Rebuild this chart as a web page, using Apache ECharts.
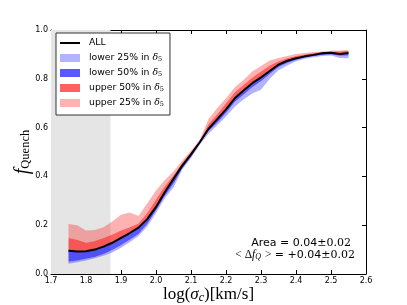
<!DOCTYPE html>
<html><head><meta charset="utf-8">
<script src="https://cdn.jsdelivr.net/npm/echarts@6/dist/echarts.min.js"></script>
<style>html,body{margin:0;padding:0;background:#fff}#c{width:407px;height:305px}</style>
</head><body><div id="c"></div>
<script>
// log(sigma_c) grid
const sigma = [1.75,1.775,1.8,1.825,1.85,1.875,1.9,1.925,1.95,1.975,2.0,2.025,2.05,2.075,2.1,2.125,2.15,2.175,2.2,2.225,2.25,2.275,2.3,2.325,2.35,2.375,2.4,2.425,2.45,2.475,2.5,2.525,2.55];
const fAll = [0.095,0.092,0.093,0.100,0.112,0.128,0.148,0.168,0.190,0.225,0.275,0.335,0.390,0.444,0.490,0.540,0.595,0.635,0.675,0.720,0.752,0.782,0.806,0.832,0.858,0.874,0.884,0.892,0.898,0.905,0.907,0.902,0.906];
const fUpper50 = [0.148,0.140,0.128,0.135,0.148,0.162,0.178,0.192,0.207,0.250,0.305,0.360,0.405,0.455,0.500,0.545,0.615,0.655,0.700,0.745,0.775,0.805,0.830,0.855,0.872,0.884,0.893,0.900,0.905,0.910,0.912,0.912,0.915];
const fUpper25 = [0.205,0.200,0.178,0.180,0.192,0.215,0.243,0.252,0.238,0.290,0.342,0.385,0.420,0.465,0.505,0.550,0.635,0.680,0.720,0.765,0.795,0.830,0.852,0.875,0.885,0.893,0.902,0.906,0.910,0.912,0.915,0.916,0.918];
const fLower50 = [0.050,0.055,0.062,0.070,0.082,0.098,0.118,0.140,0.164,0.205,0.260,0.320,0.370,0.432,0.480,0.535,0.585,0.620,0.660,0.705,0.735,0.765,0.790,0.820,0.848,0.865,0.877,0.886,0.892,0.898,0.900,0.894,0.896];
const fLower25 = [0.042,0.048,0.055,0.065,0.075,0.088,0.108,0.130,0.156,0.195,0.250,0.310,0.355,0.428,0.475,0.530,0.575,0.610,0.645,0.685,0.715,0.740,0.755,0.800,0.835,0.855,0.872,0.882,0.888,0.893,0.895,0.885,0.884];
const shadeSpan = [1.7, 1.87];
const xRange = [1.7, 2.6], xStep = 0.1;
const yRange = [0, 1], yStep = 0.2;
const legendNames = ['ALL','lower 25%','lower 50%','upper 50%','upper 25%'];
const colors = {
  'lower 25%': 'rgba(0,0,255,0.3)',
  'lower 50%': 'rgba(0,0,255,0.65)',
  'upper 50%': 'rgba(255,0,0,0.62)',
  'upper 25%': 'rgba(255,0,0,0.3)'
};

function band(name, lo, hi) {
  return {
    name: name, type: 'custom', coordinateSystem: 'cartesian2d', silent: true, z: 2,
    itemStyle: {color: colors[name]},
    data: sigma.map((x, i) => [x, lo[i], hi[i]]),
    encode: {x: 0, y: [1, 2]},
    renderItem: function (params, api) {
      if (params.dataIndexInside !== 0) return null;
      const top = [], bot = [];
      for (let i = 0; i < sigma.length; i++) {
        top.push(api.coord([sigma[i], hi[i]]));
        bot.push(api.coord([sigma[i], lo[i]]));
      }
      return {type: 'polygon', shape: {points: top.concat(bot.reverse())}, style: {fill: colors[name]}};
    }
  };
}

const axisCommon = {
  axisLine: {show: true, onZero: false, lineStyle: {color: '#000', width: 1}},
  axisTick: {show: true, inside: true, length: 4, lineStyle: {color: '#000'}},
  splitLine: {show: false}
};
const tickFont = {fontFamily: 'DejaVu Sans', fontSize: 8, color: '#000'};

const chart = echarts.init(document.getElementById('c'), null, {renderer: 'canvas'});
chart.setOption({
  animation: false,
  backgroundColor: '#fff',
  grid: {left: 51, right: 41, top: 30, bottom: 31, containLabel: false, outerBoundsMode: 'none'},
  xAxis: [
    Object.assign({type: 'value', min: xRange[0], max: xRange[1], interval: xStep, position: 'bottom',
      axisLabel: Object.assign({formatter: v => v.toFixed(1), margin: 3}, tickFont),
      name: '{r|log(}{i|σ}{s|c}{r|)[km/s]}', nameLocation: 'middle', nameGap: 12, nameMoveOverlap: false,
      nameTextStyle: {rich: {
        r: {fontFamily: 'Liberation Serif', fontSize: 17, lineHeight: 18, color: '#000'},
        i: {fontFamily: 'Liberation Serif', fontStyle: 'italic', fontSize: 17, lineHeight: 18, color: '#000'},
        s: {fontFamily: 'Liberation Serif', fontStyle: 'italic', fontSize: 12, lineHeight: 18, color: '#000', padding: [5, 0, 0, 0]}
      }}
    }, axisCommon),
    Object.assign({type: 'value', min: xRange[0], max: xRange[1], interval: xStep, position: 'top',
      axisLabel: {show: false}}, axisCommon)
  ],
  yAxis: [
    Object.assign({type: 'value', min: yRange[0], max: yRange[1], interval: yStep, position: 'left',
      axisLabel: Object.assign({formatter: v => v.toFixed(1), margin: 3}, tickFont),
      name: '{f|f}{s|Quench}', nameLocation: 'middle', nameGap: 18, nameRotate: 90, nameMoveOverlap: false,
      nameTextStyle: {rich: {
        f: {fontFamily: 'Liberation Serif', fontStyle: 'italic', fontSize: 20, lineHeight: 20, color: '#000'},
        s: {fontFamily: 'Liberation Serif', fontSize: 12.5, lineHeight: 20, color: '#000', padding: [6, 0, 0, 0]}
      }}
    }, axisCommon),
    Object.assign({type: 'value', min: yRange[0], max: yRange[1], interval: yStep, position: 'right',
      axisLabel: {show: false}}, axisCommon)
  ],
  legend: {
    orient: 'vertical', left: 56, top: 33,
    itemWidth: 20, itemHeight: 8, itemGap: 5,
    padding: [5, 6, 7, 4],
    borderColor: '#333', borderWidth: 1, borderRadius: 0, backgroundColor: '#fff',
    selectedMode: false,
    data: legendNames.map(n => n === 'ALL'
      ? {name: n, icon: 'path://M0,0 h20 v2 h-20 z', itemStyle: {color: '#000'}}
      : {name: n, icon: 'rect', itemStyle: {color: colors[n]}}),
    formatter: n => n === 'ALL' ? '{g| }{t|ALL}' : '{g| }{t|' + n + ' in }{d|δ}{s|5}',
    textStyle: {
      fontFamily: 'DejaVu Sans', fontSize: 9.3, color: '#000', lineHeight: 10,
      rich: {
        g: {width: 4, fontSize: 9.3, lineHeight: 10},
        t: {fontFamily: 'DejaVu Sans', fontSize: 9.3, color: '#000', lineHeight: 10},
        d: {fontFamily: 'DejaVu Serif', fontStyle: 'italic', fontSize: 9.3, color: '#000', lineHeight: 10},
        s: {fontFamily: 'DejaVu Serif', fontSize: 6.5, color: '#000', lineHeight: 10, padding: [3, 0, 0, 0]}
      }
    }
  },
  graphic: [
    {type: 'text', right: 407 - 351, top: 238, z: 10, style: {
      text: '{a|Area = 0.04}{b|±0.02}', align: 'right',
      rich: {
        a: {fontFamily: 'DejaVu Sans', fontSize: 11, lineHeight: 14, fill: '#000'},
        b: {fontFamily: 'DejaVu Serif', fontSize: 11, lineHeight: 14, fill: '#000'}
      }}},
    {type: 'text', right: 407 - 355, top: 249, z: 10, style: {
      text: '{m|< Δ}{fi|f}{q|Q}{m| >}{a| = +0.04}{b|±0.02}', align: 'right',
      rich: {
        m: {fontFamily: 'Liberation Serif', fontSize: 11.5, lineHeight: 14, fill: '#000'},
        fi: {fontFamily: 'Liberation Serif', fontStyle: 'italic', fontSize: 11.5, lineHeight: 14, fill: '#000'},
        q: {fontFamily: 'Liberation Serif', fontStyle: 'italic', fontSize: 8, lineHeight: 14, fill: '#000', padding: [4, 1, 0, 0]},
        a: {fontFamily: 'DejaVu Sans', fontSize: 11, lineHeight: 14, fill: '#000'},
        b: {fontFamily: 'DejaVu Serif', fontSize: 11, lineHeight: 14, fill: '#000'}
      }}}
  ],
  series: [
    {type: 'line', data: [], z: 1, silent: true,
      markArea: {silent: true, z: 1, itemStyle: {color: '#e5e5e5'},
        data: [[{xAxis: shadeSpan[0]}, {xAxis: shadeSpan[1]}]]}},
    band('upper 25%', fUpper50, fUpper25),
    band('upper 50%', fAll, fUpper50),
    band('lower 50%', fLower50, fAll),
    band('lower 25%', fLower25, fLower50),
    {name: 'ALL', type: 'line', z: 5, symbol: 'none', silent: true,
      data: sigma.map((x, i) => [x, fAll[i]]),
      lineStyle: {color: '#000', width: 2}, itemStyle: {color: '#000'}}
  ]
});
</script>
</body></html>
